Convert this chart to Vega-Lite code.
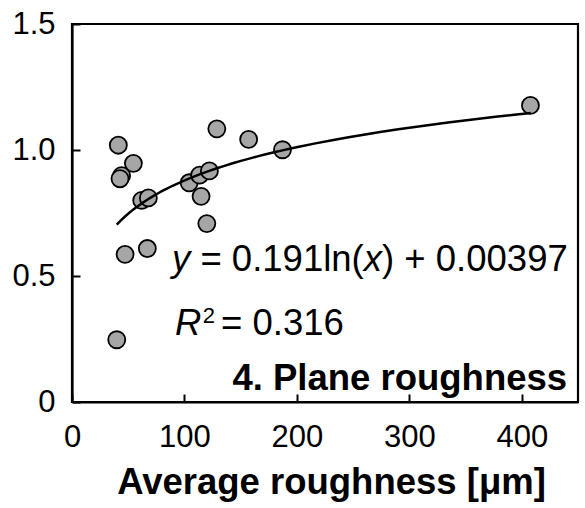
{
  "$schema": "https://vega.github.io/schema/vega-lite/v6.json",
  "width": 506,
  "height": 378,
  "autosize": {"type": "none"},
  "padding": {"left": 72, "top": 24, "right": 7, "bottom": 106},
  "config": {
    "font": "Liberation Sans",
    "view": {"stroke": "black", "strokeWidth": 2.2},
    "axis": {
      "grid": false,
      "domainColor": "black",
      "domainWidth": 2.2,
      "tickColor": "black",
      "tickWidth": 2,
      "labelColor": "black",
      "labelFont": "Liberation Sans",
      "labelFontSize": 31,
      "titleColor": "black",
      "titleFont": "Liberation Sans"
    }
  },
  "datasets": {
    "points": [
      {"roughness": 41.2, "ratio": 1.019},
      {"roughness": 54.6, "ratio": 0.947},
      {"roughness": 44.1, "ratio": 0.898},
      {"roughness": 42.7, "ratio": 0.886},
      {"roughness": 62.0, "ratio": 0.800},
      {"roughness": 67.9, "ratio": 0.810},
      {"roughness": 47.2, "ratio": 0.586},
      {"roughness": 67.0, "ratio": 0.609},
      {"roughness": 39.8, "ratio": 0.247},
      {"roughness": 104.2, "ratio": 0.870},
      {"roughness": 113.5, "ratio": 0.900},
      {"roughness": 122.2, "ratio": 0.917},
      {"roughness": 114.8, "ratio": 0.816},
      {"roughness": 119.9, "ratio": 0.708},
      {"roughness": 128.8, "ratio": 1.084},
      {"roughness": 157.1, "ratio": 1.042},
      {"roughness": 187.2, "ratio": 1.001},
      {"roughness": 407.7, "ratio": 1.177}
    ],
    "italic": [
      {"label": "y", "roughness": 88.9, "ratio": 0.5186},
      {"label": "x", "roughness": 259.4, "ratio": 0.5186},
      {"label": "R", "roughness": 91.6, "ratio": 0.2647}
    ],
    "plainLeft": [
      {"label": "= 0.191ln(", "roughness": 114.2, "ratio": 0.5186},
      {"label": "= 0.316", "roughness": 132.5, "ratio": 0.2647}
    ],
    "plainRight": [
      {"label": ") + 0.00397", "roughness": 440.9, "ratio": 0.5186}
    ],
    "sup": [
      {"label": "2", "roughness": 116.2, "ratio": 0.312}
    ],
    "bold": [
      {"label": "4. Plane roughness", "roughness": 440.3, "ratio": 0.0464}
    ]
  },
  "encoding": {
    "x": {
      "field": "roughness",
      "type": "quantitative",
      "scale": {"domain": [0, 450], "nice": false},
      "axis": {
        "values": [0, 100, 200, 300, 400],
        "tickSize": -8,
        "labelPadding": 28,
        "labelFlush": false,
        "labelOverlap": false,
        "title": "Average roughness [μm]",
        "titleFontSize": 36.5,
        "titleFontWeight": "bold",
        "titlePadding": 12,
        "titleX": 259
      }
    },
    "y": {
      "field": "ratio",
      "type": "quantitative",
      "scale": {"domain": [0, 1.5], "nice": false},
      "axis": {
        "values": [0, 0.5, 1, 1.5],
        "tickSize": -8,
        "labelPadding": 25,
        "labelFlush": false,
        "labelOverlap": false,
        "labelExpr": "datum.value == 0 ? '0' : format(datum.value, '.1f')",
        "title": null
      }
    }
  },
  "layer": [
    {
      "data": {"name": "points"},
      "mark": {"type": "point", "shape": "circle", "filled": true, "size": 290, "fill": "#a6a6a6", "stroke": "black", "strokeWidth": 1.8, "opacity": 1}
    },
    {
      "data": {"name": "points"},
      "transform": [
        {"regression": "ratio", "on": "roughness", "method": "log", "extent": [39.8, 408]}
      ],
      "mark": {"type": "line", "color": "black", "strokeWidth": 2.5}
    },
    {
      "data": {"name": "italic"},
      "mark": {"type": "text", "align": "left", "baseline": "alphabetic", "fontSize": 36.5, "fontStyle": "italic", "color": "black"},
      "encoding": {"text": {"field": "label"}}
    },
    {
      "data": {"name": "plainLeft"},
      "mark": {"type": "text", "align": "left", "baseline": "alphabetic", "fontSize": 36.5, "color": "black"},
      "encoding": {"text": {"field": "label"}}
    },
    {
      "data": {"name": "plainRight"},
      "mark": {"type": "text", "align": "right", "baseline": "alphabetic", "fontSize": 36.5, "color": "black"},
      "encoding": {"text": {"field": "label"}}
    },
    {
      "data": {"name": "sup"},
      "mark": {"type": "text", "align": "left", "baseline": "alphabetic", "fontSize": 22, "color": "black"},
      "encoding": {"text": {"field": "label"}}
    },
    {
      "data": {"name": "bold"},
      "mark": {"type": "text", "align": "right", "baseline": "alphabetic", "fontSize": 36.5, "fontWeight": "bold", "color": "black"},
      "encoding": {"text": {"field": "label"}}
    }
  ]
}
